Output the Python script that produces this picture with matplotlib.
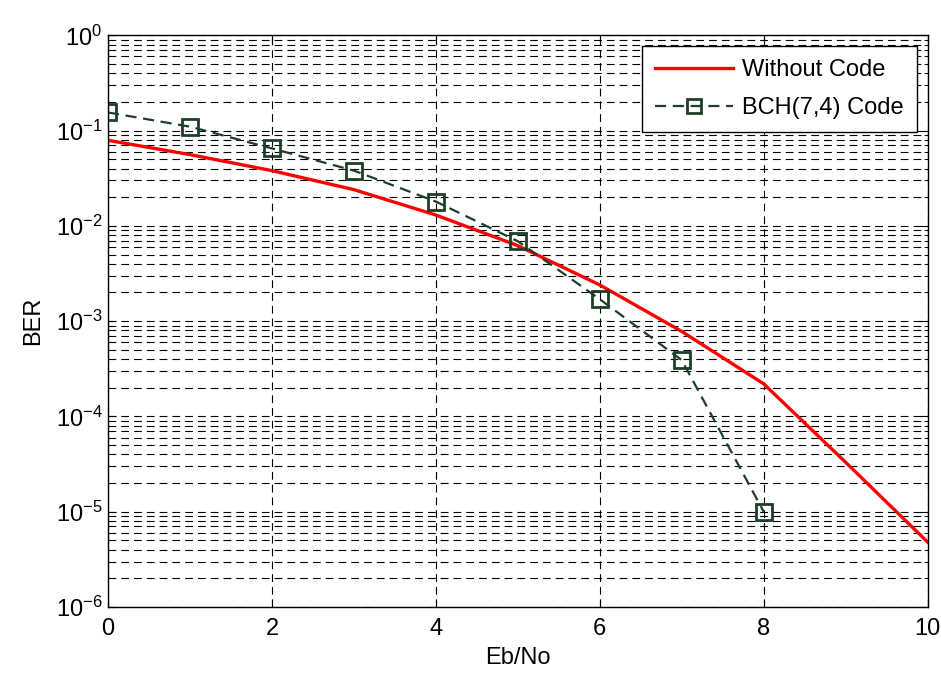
import numpy as np
import matplotlib
matplotlib.use("Agg")
import matplotlib.pyplot as plt
from matplotlib.ticker import LogLocator, NullFormatter

plt.rcParams['font.family'] = ['Liberation Sans', 'DejaVu Sans']

# values
ebno_uncoded = [0, 1, 2, 3, 4, 5, 6, 7, 8, 9, 10]
ber_uncoded = [0.079, 0.056, 0.038, 0.024, 0.013, 0.0062, 0.0024,
               0.00078, 0.00022, 3.3e-5, 4.8e-6]

ebno_bch = [0, 1, 2, 3, 4, 5, 6, 7, 8]
ber_bch = [0.155, 0.11, 0.065, 0.038, 0.018, 0.0069, 0.0017, 0.00039, 1.0e-5]

labels = ["Without Code", "BCH(7,4) Code"]
green = "#1d3f28"

fig = plt.figure(figsize=(9.41, 6.79), dpi=100)
ax = fig.add_axes([0.1148, 0.106, 0.871, 0.842])

ax.semilogy(ebno_uncoded, ber_uncoded, color="#ff0000", lw=2.4, label=labels[0])
ax.semilogy(ebno_bch, ber_bch, color=green, lw=1.6, ls=(0, (5, 3)),
            marker="s", ms=11, mfc="none", mec=green, mew=2, label=labels[1])

ax.set_xlim(0, 10)
ax.set_ylim(1e-6, 1)
ax.set_xticks([0, 2, 4, 6, 8, 10])
ax.yaxis.set_major_locator(LogLocator(base=10, numticks=10))
ax.yaxis.set_minor_locator(LogLocator(base=10, subs=np.arange(2, 10), numticks=100))
ax.yaxis.set_minor_formatter(NullFormatter())

grid_ls = (0, (7, 4.5))
ax.grid(True, which="major", axis="both", color="black", ls=grid_ls, lw=0.8)
ax.grid(True, which="minor", axis="y", color="black", ls=grid_ls, lw=0.8)

ax.tick_params(which="both", direction="in", top=True, right=True, labelsize=17)
ax.tick_params(which="major", length=6)
ax.tick_params(axis="x", which="major", pad=8)
ax.tick_params(axis="y", which="major", pad=4)
ax.tick_params(which="minor", length=3)
for s in ax.spines.values():
    s.set_linewidth(1.0)

ax.set_xlabel("Eb/No", fontsize=17, labelpad=5)
ax.set_ylabel("BER", fontsize=17, labelpad=8)

leg = ax.legend(loc="upper right", prop={"size": 17},
                fancybox=False, framealpha=1, edgecolor="black",
                handlelength=3.3, borderpad=0.55, labelspacing=0.7,
                borderaxespad=0.45, handletextpad=0.4, markerscale=0.9)
leg.get_frame().set_linewidth(1.0)

fig.savefig("out.png", dpi=100)
